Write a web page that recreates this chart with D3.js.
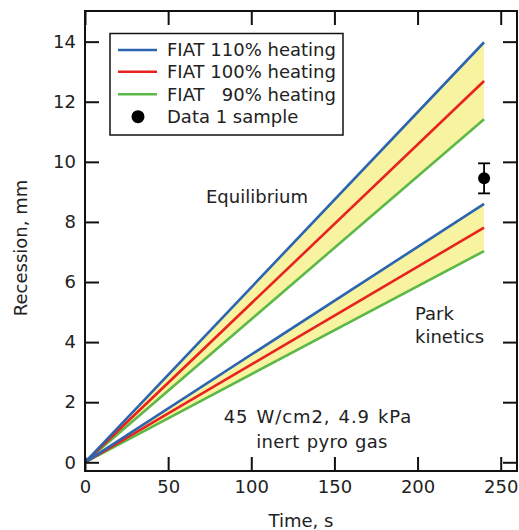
<!DOCTYPE html>
<html><head><meta charset="utf-8">
<script src="https://cdn.jsdelivr.net/npm/d3@7"></script>
<style>body{margin:0;background:#fff}svg text{font-family:"DejaVu Sans",sans-serif;fill:#222}</style>
</head><body><svg id="c" width="519" height="530"></svg>
<script>
const times = [0, 240];
const eq110 = [0, 13.98];
const eq100 = [0, 12.69];
const eq90 = [0, 11.42];
const pk110 = [0, 8.60];
const pk100 = [0, 7.81];
const pk90 = [0, 7.03];
const sampleT = [240];
const sampleR = [9.45];
const sampleErr = [0.5];
const xTicks = [0, 50, 100, 150, 200, 250];
const yTicks = [0, 2, 4, 6, 8, 10, 12, 14];
const legendLabels = ["FIAT 110% heating", "FIAT 100% heating", "FIAT \u00a0 90% heating", "Data 1 sample"];

const colors = {b:"#2b64b0", r:"#e8231f", g:"#5cb847", fill:"#f8f3a0"};
const svg = d3.select("#c");
const L=85, R=517, T=11, B=471;
const x = d3.scaleLinear().domain([0,259.8]).range([L,R]);
const y = d3.scaleLinear().domain([-0.29,15.02]).range([B,T]);
const fs = 18;

function band(lo, hi){
  const d = times.map((t,i)=>({t, lo:lo[i], hi:hi[i]}));
  svg.append("path").datum(d).attr("fill",colors.fill)
    .attr("d", d3.area().x(p=>x(p.t)).y0(p=>y(p.lo)).y1(p=>y(p.hi)));
}
function line(v, c){
  const d = times.map((t,i)=>({t, v:v[i]}));
  svg.append("path").datum(d).attr("fill","none").attr("stroke",c).attr("stroke-width",2.6)
    .attr("d", d3.line().x(p=>x(p.t)).y(p=>y(p.v)));
}
band(eq90, eq110); band(pk90, pk110);
line(eq90,colors.g); line(eq100,colors.r); line(eq110,colors.b);
line(pk90,colors.g); line(pk100,colors.r); line(pk110,colors.b);

// data point
sampleT.forEach((t,i)=>{
  const cx=x(t);
  svg.append("line").attr("x1",cx).attr("x2",cx).attr("y1",y(sampleR[i]-sampleErr[i])).attr("y2",y(sampleR[i]+sampleErr[i])).attr("stroke","#000").attr("stroke-width",1.8);
  [sampleR[i]-sampleErr[i], sampleR[i]+sampleErr[i]].forEach(v=>
    svg.append("line").attr("x1",cx-6).attr("x2",cx+6).attr("y1",y(v)).attr("y2",y(v)).attr("stroke","#000").attr("stroke-width",1.8));
  svg.append("circle").attr("cx",cx).attr("cy",y(sampleR[i])).attr("r",6).attr("fill","#000");
});

// axes
const tl = 14;
const ax = svg.append("g").attr("transform",`translate(0,${B})`).call(d3.axisBottom(x).tickValues(xTicks).tickSize(-tl).tickPadding(7).tickFormat(d3.format("d")));
const axT = svg.append("g").attr("transform",`translate(0,${T})`).call(d3.axisTop(x).tickValues(xTicks).tickSize(-tl).tickFormat(""));
const ay = svg.append("g").attr("transform",`translate(${L},0)`).call(d3.axisLeft(y).tickValues(yTicks).tickSize(-tl).tickPadding(9).tickFormat(d3.format("d")));
const ayR = svg.append("g").attr("transform",`translate(${R},0)`).call(d3.axisRight(y).tickValues(yTicks).tickSize(-tl).tickFormat(""));
[ax,axT,ay,ayR].forEach(g=>{
  g.select(".domain").remove();
  g.selectAll("line").attr("stroke","#111").attr("stroke-width",2);
  g.selectAll("text").attr("font-size",fs).style("fill","#222");
});
ax.selectAll("text").attr("dy","0.85em");
svg.append("rect").attr("x",L).attr("y",T).attr("width",R-L).attr("height",B-T).attr("fill","none").attr("stroke","#111").attr("stroke-width",2);

// legend
const lg = svg.append("g");
lg.append("rect").attr("x",110).attr("y",33.5).attr("width",233).attr("height",101.5).attr("fill","#fff").attr("stroke","#111").attr("stroke-width",1.5);
const rowY=[50,71.7,94.3,116.7];
const legCols=[colors.b,colors.r,colors.g,null];
legendLabels.forEach((lab,i)=>{
  if(legCols[i]) lg.append("line").attr("x1",118).attr("x2",157).attr("y1",rowY[i]).attr("y2",rowY[i]).attr("stroke",legCols[i]).attr("stroke-width",2.6);
  else lg.append("circle").attr("cx",138).attr("cy",rowY[i]).attr("r",6.5).attr("fill","#000");
  lg.append("text").attr("x",167).attr("y",rowY[i]).attr("dy","0.36em").attr("font-size",fs).text(lab);
});

// annotations
function txt(s,xx,yy,anchor,ls,ws){const t=svg.append("text").attr("x",xx).attr("y",yy).attr("text-anchor",anchor||"start").attr("font-size",fs).text(s);
  if(ls) t.style("letter-spacing",ls+"px"); if(ws) t.style("word-spacing",ws+"px"); return t;}
txt("Equilibrium",257,203,"middle");
txt("Park",415,320);
txt("kinetics",415,343);
txt("45 W/cm2, 4.9 kPa",318,423,"middle",0.9,1.5);
txt("inert pyro gas",322,448,"middle",0.3,1);
txt("Time, s",301,527,"middle");
svg.append("text").attr("transform","translate(27,248) rotate(-90)").attr("text-anchor","middle").attr("font-size",fs).text("Recession, mm");
</script></body></html>
